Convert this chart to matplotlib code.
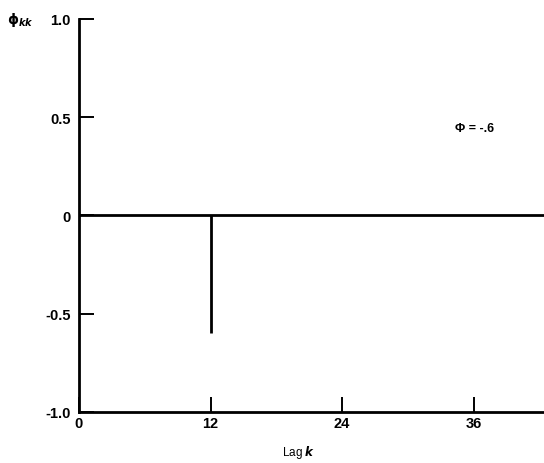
import numpy as np
import matplotlib
matplotlib.use("Agg")
import matplotlib.pyplot as plt

plt.rcParams['font.family'] = ['Liberation Sans', 'DejaVu Sans']
plt.rcParams['font.weight'] = 'bold'
plt.rcParams['mathtext.default'] = 'bf'

# partial autocorrelation: only a spike at the seasonal lag
lags = [12]
pacf = [-0.6]

xticks = [0, 12, 24, 36]
yticks = [-1.0, -0.5, 0, 0.5, 1.0]
ylabels = ['-1.0', '-0.5', '0', '0.5', '1.0']

fig = plt.figure(figsize=(5.44, 4.64), dpi=100)
ax = fig.add_axes([0.145, 0.11, 0.855, 0.847])

ax.axhline(0, color='black', lw=2)
ax.vlines(lags, 0, pacf, color='black', lw=2)

ax.set_xlim(0, 42.4)
ax.set_ylim(-1.0, 1.0)
for s in ['top', 'right']:
    ax.spines[s].set_visible(False)
for s in ['left', 'bottom']:
    ax.spines[s].set_linewidth(2)

ax.set_xticks(xticks)
ax.set_yticks(yticks)
ax.set_yticklabels(ylabels)
ax.tick_params(direction='in', length=11, width=1.4, labelsize=10.5, pad=3)
ax.tick_params(axis='y', pad=6)

ax.set_xlabel(r'Lag $\it{k}$', fontsize=8.5)
ax.xaxis.set_label_coords(0.472, -0.078)
fig.text(0.012, 0.957, r'$\phi_{\it{kk}}$', fontsize=10, ha='left', va='center')
ax.text(34.3, 0.445, '\u03a6 = -.6', fontsize=9, ha='left', va='center')

fig.savefig('out.png', dpi=100)
